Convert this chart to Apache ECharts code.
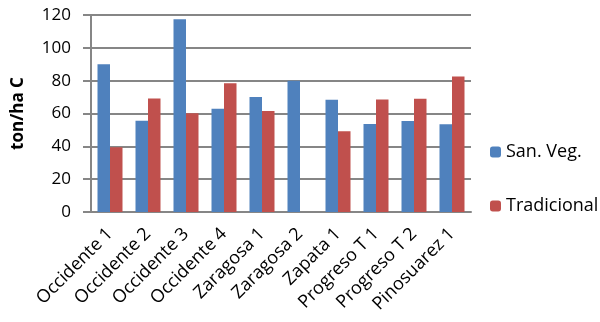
<!DOCTYPE html>
<html><head><meta charset="utf-8">
<script src="https://cdn.jsdelivr.net/npm/echarts@6/dist/echarts.min.js"></script>
<style>html,body{margin:0;padding:0;background:#fff}#c{width:600px;height:322px}</style>
</head><body><div id="c"></div>
<script>
const categories = ["Occidente 1","Occidente 2","Occidente 3","Occidente 4","Zaragosa 1","Zaragosa 2","Zapata 1","Progreso T 1","Progreso T 2","Pinosuarez 1"];
const sanVeg = [90.0, 55.6, 117.4, 62.9, 70.0, 79.9, 68.4, 53.6, 55.4, 53.4];
const tradicional = [39.4, 69.1, 60.1, 78.5, 61.5, null, 49.2, 68.6, 69.0, 82.6];
const yTicks = [0, 20, 40, 60, 80, 100, 120];
const FONT = 'Open Sans';
const chart = echarts.init(document.getElementById('c'));
chart.setOption({
  animation: false,
  textStyle: {fontFamily: FONT},
  grid: {left: 91, right: 129, top: 15, bottom: 110},
  legend: {
    orient: 'vertical', left: 485, top: 138, itemWidth: 11, itemHeight: 11, itemGap: 36,
    textStyle: {fontFamily: FONT, fontSize: 18, color: '#000'},
    data: ['San. Veg.', 'Tradicional']
  },
  xAxis: {
    type: 'category', data: categories,
    axisLine: {lineStyle: {color: '#868686', width: 2}},
    axisTick: {show: false},
    axisLabel: {rotate: 45, interval: 0, fontFamily: FONT, fontSize: 18, color: '#000', margin: 19}
  },
  yAxis: {
    type: 'value', min: yTicks[0], max: yTicks[yTicks.length-1], interval: 20,
    name: 'ton/ha C', nameLocation: 'middle', nameGap: 64, nameRotate: 90,
    nameTextStyle: {fontFamily: FONT, fontWeight: 'bold', fontSize: 17, color: '#000'},
    axisLine: {show: true, lineStyle: {color: '#868686', width: 2}},
    axisTick: {show: true, length: 8, inside: false, lineStyle: {color: '#868686', width: 2}},
    splitLine: {lineStyle: {color: '#868686', width: 2}},
    axisLabel: {fontFamily: FONT, fontSize: 17, color: '#000', margin: 20}
  },
  series: [
    {name: 'San. Veg.', type: 'bar', data: sanVeg, barWidth: 12.5, barGap: '0%', itemStyle: {color: '#4F81BD'}},
    {name: 'Tradicional', type: 'bar', data: tradicional, barWidth: 12.5, itemStyle: {color: '#C0504D'}}
  ]
});
</script></body></html>
